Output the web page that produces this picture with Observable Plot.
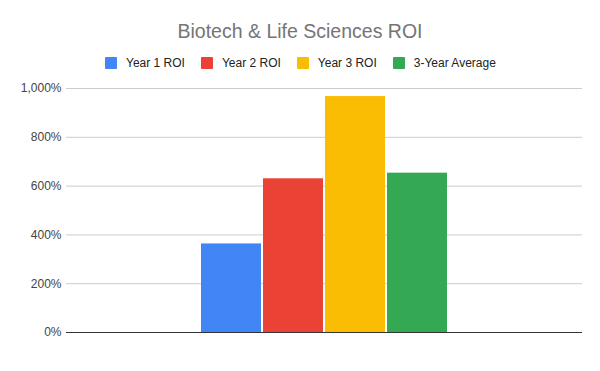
<!DOCTYPE html>
<html><head><meta charset="utf-8">
<script src="https://cdn.jsdelivr.net/npm/d3@7"></script>
<script src="https://cdn.jsdelivr.net/npm/@observablehq/plot@0.6"></script>
<style>
body{margin:0;background:#fff;font-family:"Liberation Sans",Arial,sans-serif;width:600px;height:371px;position:relative;overflow:hidden;}
#title{position:absolute;top:21px;left:0;width:600px;text-align:center;font-size:19.5px;line-height:20px;color:#757575;white-space:nowrap;}
#legend{position:absolute;top:56px;left:105px;display:flex;align-items:center;font-size:12px;line-height:14px;color:#222;white-space:nowrap;}
.item{display:flex;align-items:center;margin-right:16px;}
.sw{width:12px;height:12px;margin-right:9px;border-radius:1px;}
#chart{position:absolute;top:74px;left:0;}
</style></head>
<body>
<div id="title"></div>
<div id="legend"></div>
<div id="chart"></div>
<script>
const title = "Biotech & Life Sciences ROI";
const series = ["Year 1 ROI", "Year 2 ROI", "Year 3 ROI", "3-Year Average"];
const values = [363, 630, 967, 653];
const colors = ["#4285F4", "#EA4335", "#FBBC04", "#34A853"];
const yTicks = [0, 200, 400, 600, 800, 1000];

const data = series.map((s, i) => ({series: s, value: values[i]}));

document.getElementById("title").textContent = title;

const legend = document.getElementById("legend");
series.forEach((s, i) => {
  const it = document.createElement("div");
  it.className = "item";
  const sw = document.createElement("div");
  sw.className = "sw";
  sw.style.background = colors[i];
  const t = document.createElement("span");
  t.textContent = s;
  it.appendChild(sw); it.appendChild(t);
  legend.appendChild(it);
});

const plot = Plot.plot({
  width: 600,
  height: 297,
  marginTop: 14,
  marginBottom: 39,
  marginLeft: 66,
  marginRight: 18,
  style: {fontFamily: "'Liberation Sans', Arial, sans-serif", fontSize: "12px", color: "#444", background: "#fff"},
  x: {domain: series, range: [201, 447], paddingInner: 0.033, paddingOuter: 0, axis: null},
  y: {domain: [0, 1000], ticks: yTicks, label: null},
  color: {domain: series, range: colors},
  marks: [
    Plot.gridY(yTicks, {stroke: "#cccccc", strokeOpacity: 1}),
    Plot.axisY(yTicks, {tickSize: 0, tickPadding: 5, label: null, tickFormat: d => d3.format(",")(d) + "%", fill: "#444"}),
    Plot.barY(data, {x: "series", y: "value", fill: "series", inset: 0}),
    Plot.ruleY([0], {stroke: "#333", strokeWidth: 1})
  ]
});
document.getElementById("chart").appendChild(plot);
</script>
</body></html>
